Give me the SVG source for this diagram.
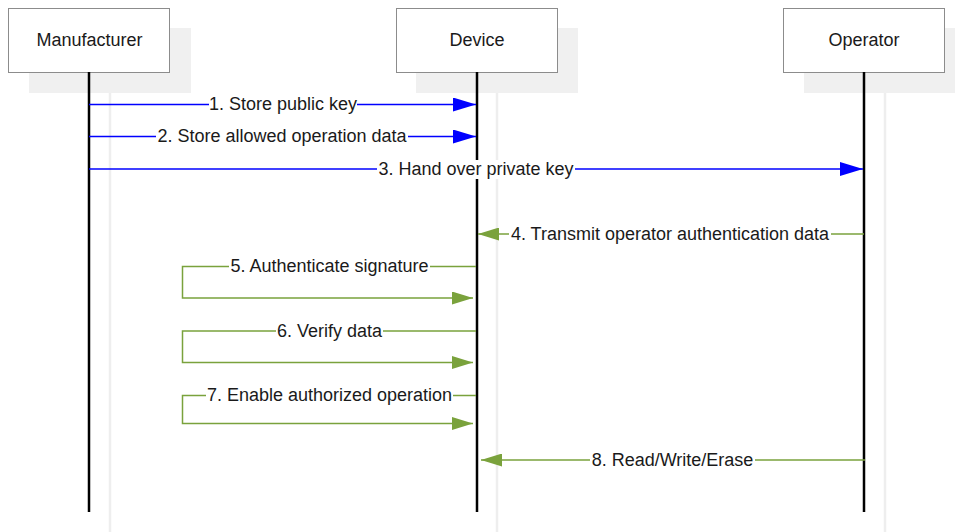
<svg xmlns="http://www.w3.org/2000/svg" width="955" height="532" viewBox="0 0 955 532">
  <style>
    text { font-family: "Liberation Sans", Arial, sans-serif; font-size: 18px; fill: #1a1a1a; }
    .lbl { text-anchor: middle; dominant-baseline: central; }
    .box { fill: #ffffff; stroke: #8c8c8c; stroke-width: 1; }
    .shadow { fill: #f0f0f0; }
    .life { stroke: #000000; stroke-width: 2.5; }
    .lifeshadow { stroke: #eeeeee; stroke-width: 2.5; }
    .blue { stroke: #0000ff; stroke-width: 1.5; fill: none; }
    .green { stroke: #7aa23c; stroke-width: 1.5; fill: none; }
    .bg { fill: #ffffff; }
  </style>
  <defs>
    <marker id="ahBlue" viewBox="0 0 23 14" refX="23" refY="7" markerWidth="23" markerHeight="14" markerUnits="userSpaceOnUse" orient="auto">
      <path d="M0,0 L23,7 L0,14 Z" fill="#0000ff"/>
    </marker>
    <marker id="ahGreen" viewBox="0 0 21 13" refX="21" refY="6.5" markerWidth="21" markerHeight="13" markerUnits="userSpaceOnUse" orient="auto">
      <path d="M0,0 L21,6.5 L0,13 Z" fill="#7aa23c"/>
    </marker>
  </defs>

  <rect width="955" height="532" fill="#ffffff"/>

  <!-- participant: Manufacturer -->
  <g id="manufacturer">
    <rect class="shadow" x="29" y="28" width="162" height="65"/>
    <line class="lifeshadow" x1="110" y1="93" x2="110" y2="532"/>
    <rect class="box" x="8.5" y="8.5" width="161" height="64"/>
    <line class="life" x1="89" y1="72" x2="89" y2="512"/>
    <text class="lbl" x="89.5" y="40">Manufacturer</text>
  </g>

  <!-- participant: Device -->
  <g id="device">
    <rect class="shadow" x="416" y="28" width="162" height="65"/>
    <line class="lifeshadow" x1="497" y1="93" x2="497" y2="532"/>
    <rect class="box" x="396.5" y="8.5" width="161" height="64"/>
    <line class="life" x1="477" y1="72" x2="477" y2="512"/>
    <text class="lbl" x="477" y="40">Device</text>
  </g>

  <!-- participant: Operator -->
  <g id="operator">
    <rect class="shadow" x="804" y="28" width="151" height="65"/>
    <line class="lifeshadow" x1="885" y1="93" x2="885" y2="532"/>
    <rect class="box" x="783.5" y="8.5" width="161" height="64"/>
    <line class="life" x1="864" y1="72" x2="864" y2="512"/>
    <text class="lbl" x="864" y="40">Operator</text>
  </g>

  <!-- messages -->
  <g id="connectors">
    <path class="blue" d="M89,104.5 H476" marker-end="url(#ahBlue)"/>
    <rect class="bg" x="209" y="95" width="148" height="19"/>
    <text class="lbl" x="283" y="104">1. Store public key</text>

    <path class="blue" d="M89,136.5 H476" marker-end="url(#ahBlue)"/>
    <rect class="bg" x="156" y="127" width="252" height="19"/>
    <text class="lbl" x="282" y="136">2. Store allowed operation data</text>

    <path class="blue" d="M89,169 H863" marker-end="url(#ahBlue)"/>
    <rect class="bg" x="377" y="160" width="198" height="19"/>
    <text class="lbl" x="476" y="168.5">3. Hand over private key</text>

    <path class="green" d="M864,234 H478" marker-end="url(#ahGreen)"/>
    <rect class="bg" x="509" y="225" width="322" height="19"/>
    <text class="lbl" x="670" y="234">4. Transmit operator authentication data</text>

    <path class="green" d="M476,266.5 H182.5 V298 H473" marker-end="url(#ahGreen)"/>
    <rect class="bg" x="229" y="257" width="201" height="19"/>
    <text class="lbl" x="329.5" y="266">5. Authenticate signature</text>

    <path class="green" d="M476,331 H182.5 V362.5 H473" marker-end="url(#ahGreen)"/>
    <rect class="bg" x="276" y="322" width="107" height="19"/>
    <text class="lbl" x="329.5" y="330.5">6. Verify data</text>

    <path class="green" d="M476,395.5 H182.5 V423.5 H473" marker-end="url(#ahGreen)"/>
    <rect class="bg" x="206" y="386" width="247" height="19"/>
    <text class="lbl" x="329.5" y="395">7. Enable authorized operation</text>

    <path class="green" d="M865,460 H481" marker-end="url(#ahGreen)"/>
    <rect class="bg" x="590" y="451" width="165" height="19"/>
    <text class="lbl" x="672.5" y="460">8. Read/Write/Erase</text>
  </g>
</svg>
